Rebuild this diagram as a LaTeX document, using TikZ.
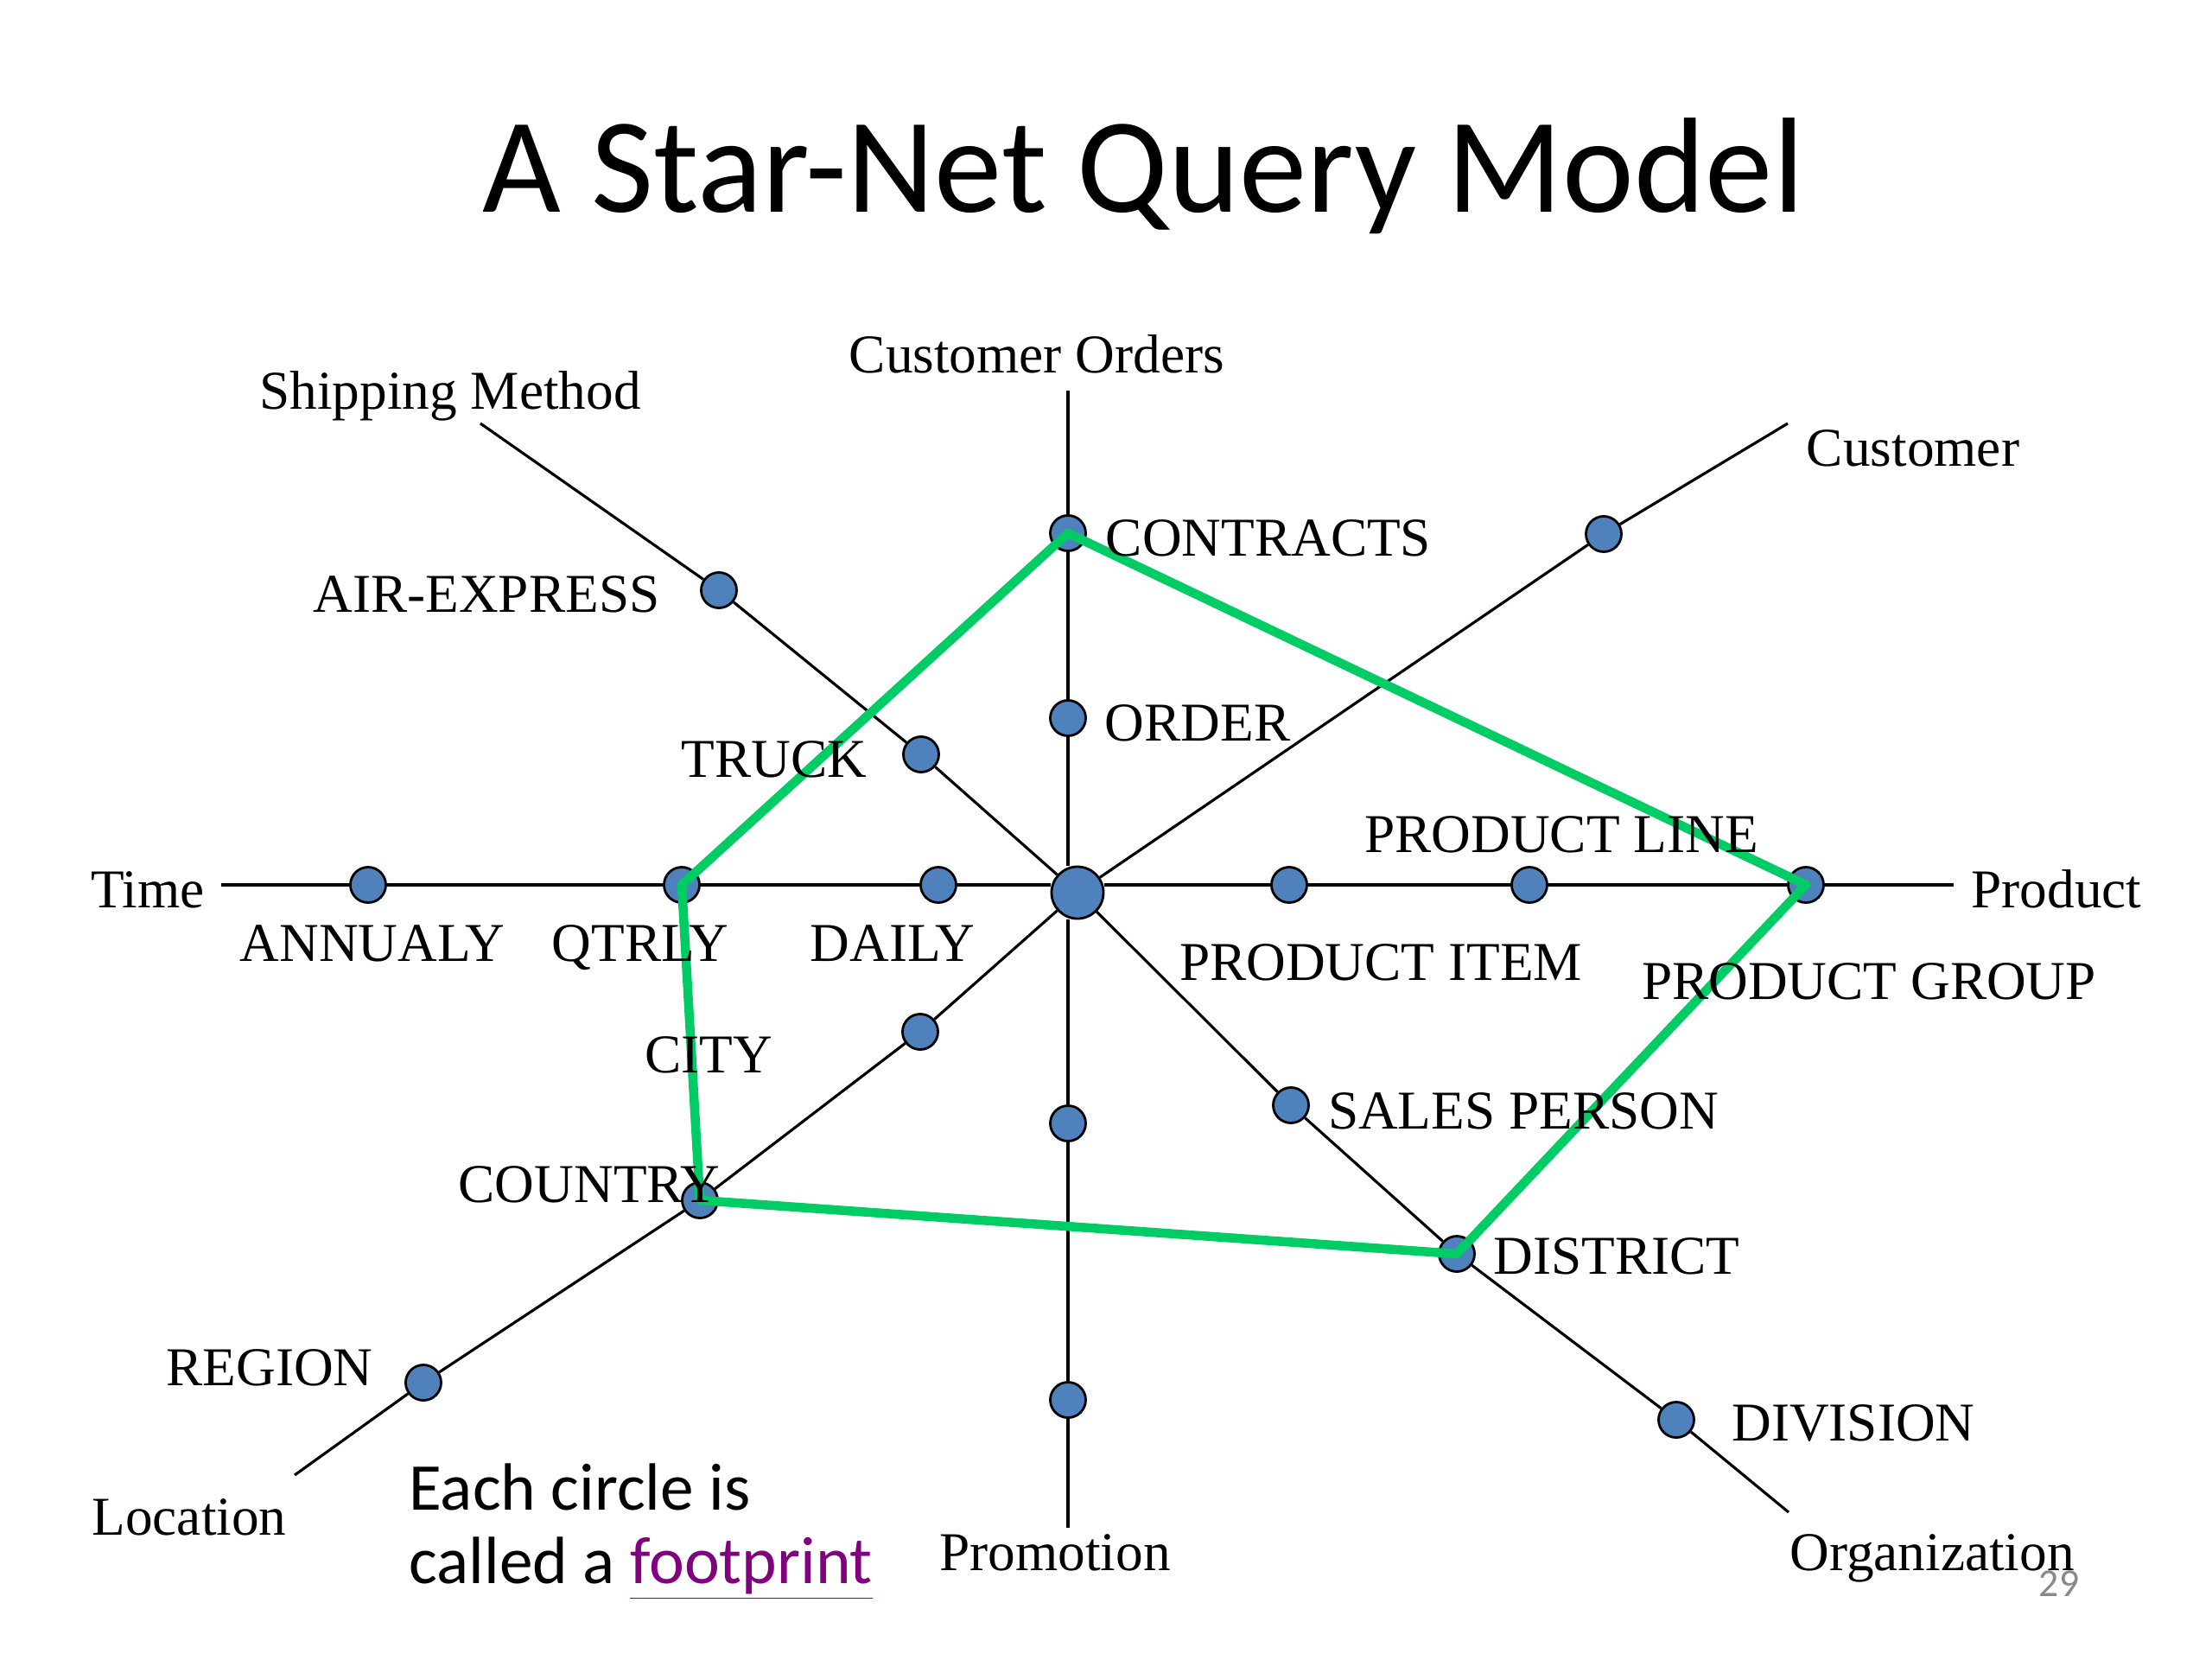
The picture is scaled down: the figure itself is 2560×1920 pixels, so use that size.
\documentclass[tikz,border=0pt]{standalone}
\usepackage{fontspec}
\setmainfont{Liberation Serif}
\newfontfamily\calibri{Carlito}
\definecolor{dotblue}{RGB}{79,129,189}
\definecolor{footgreen}{RGB}{0,204,102}
\definecolor{linkpurple}{RGB}{128,0,128}
\definecolor{pagegray}{RGB}{137,137,137}

\begin{document}
\begin{tikzpicture}[x=0.01cm, y=-0.01cm,
    dot/.style={circle, draw, fill=dotblue, minimum size=4.1mm, inner sep=0pt, line width=0.8pt},
    hub/.style={dot, minimum size=6mm},
    lbl/.style={font=\fontsize{18}{20}\selectfont, anchor=base},
    note/.style={font=\calibri\fontsize{22}{26}\selectfont, anchor=base west},
    ray/.style={line width=0.9pt},
    foot/.style={draw=footgreen, line width=3pt, line join=round}]
  \useasboundingbox[fill=white] (0,0) rectangle (2560,1920);
  \node[font=\calibri\fontsize{44.6}{50}\selectfont, anchor=base] (title) at (1323,245) {A Star-Net Query Model};

  % free ends of the dimensions
  \coordinate (ordEnd) at (1236,452);
  \coordinate (promoEnd) at (1236,1768);
  \coordinate (timeEnd) at (256,1024);
  \coordinate (prodEnd) at (2261,1024);
  \coordinate (shipEnd) at (556,490);
  \coordinate (custEnd) at (2069,490);
  \coordinate (locEnd) at (341,1707);
  \coordinate (orgEnd) at (2070,1750);

  % footprints
  \node[hub] (hub) at (1247,1033) {};
  \node[dot] (annualy) at (426,1024) {};
  \node[dot] (qtrly) at (789,1024) {};
  \node[dot] (daily) at (1086,1024) {};
  \node[dot] (item) at (1492,1024) {};
  \node[dot] (pline) at (1770,1024) {};
  \node[dot] (group) at (2090,1024) {};
  \node[dot] (contracts) at (1236,617) {};
  \node[dot] (order) at (1236,831) {};
  \node[dot] (promoA) at (1236,1300) {};
  \node[dot] (promoB) at (1236,1620) {};
  \node[dot] (air) at (832,683) {};
  \node[dot] (truck) at (1066,873) {};
  \node[dot] (cust) at (1856,618) {};
  \node[dot] (city) at (1065,1194) {};
  \node[dot] (country) at (810,1389) {};
  \node[dot] (region) at (490,1600) {};
  \node[dot] (sales) at (1494,1279) {};
  \node[dot] (district) at (1686,1451) {};
  \node[dot] (division) at (1940,1643) {};

  % dimensions
  \draw[ray] (timeEnd) -- (annualy) -- (qtrly) -- (daily) -- (daily -| hub.west);
  \draw[ray] (hub.east |- item) -- (item) -- (pline) -- (group) -- (prodEnd);
  \draw[ray] (ordEnd) -- (contracts) -- (order) -- (order |- hub.north);
  \draw[ray] (order |- hub.south) -- (promoA) -- (promoB) -- (promoEnd);
  \draw[ray] (shipEnd) -- (air) -- (truck) -- (hub);
  \draw[ray] (custEnd) -- (cust) -- (hub);
  \draw[ray] (locEnd) -- (region) -- (country) -- (city) -- (hub);
  \draw[ray] (orgEnd) -- (division) -- (district) -- (sales) -- (hub);

  % the query
  \draw[foot] (contracts.center) -- (group.center) -- (district.center)
    -- (country.center) -- (qtrly.center) -- cycle;

  % labels
  \node[lbl] (lOrders) at (1200,431) {Customer Orders};
  \node[lbl] (lShip) at (521,473) {Shipping Method};
  \node[lbl] (lCust) at (2214,539) {Customer};
  \node[lbl] (lAir) at (563,708) {AIR-EXPRESS};
  \node[lbl] (lContracts) at (1468,643) {CONTRACTS};
  \node[lbl] (lOrder) at (1386,857) {ORDER};
  \node[lbl] (lTruck) at (896,899) {TRUCK};
  \node[lbl] (lLine) at (1807,986) {PRODUCT LINE};
  \node[lbl] (lTime) at (171,1050) {Time};
  \node[lbl] (lProd) at (2380,1050) {Product};
  \node[lbl] (lAnnualy) at (431,1112) {ANNUALY};
  \node[lbl] (lQtrly) at (741,1112) {QTRLY};
  \node[lbl] (lDaily) at (1033,1112) {DAILY};
  \node[lbl] (lItem) at (1598,1134) {PRODUCT ITEM};
  \node[lbl] (lGroup) at (2163,1156) {PRODUCT GROUP};
  \node[lbl] (lCity) at (820,1241) {CITY};
  \node[lbl] (lSales) at (1763,1306) {SALES PERSON};
  \node[lbl] (lCountry) at (682,1391) {COUNTRY};
  \node[lbl] (lDistrict) at (1871,1474) {DISTRICT};
  \node[lbl] (lRegion) at (312,1603) {REGION};
  \node[lbl] (lDivision) at (2145,1667) {DIVISION};
  \node[lbl] (lLoc) at (219,1776) {Location};
  \node[lbl] (lPromo) at (1221,1817) {Promotion};
  \node[lbl] (lOrg) at (2236,1817) {Organization};

  \node[note] (noteA) at (461,1747) {Each circle is};
  \node[note] (noteB) at (461,1832) {called a \textcolor{linkpurple}{\underline{footprint}}};
  \node[font=\calibri\fontsize{13}{15}\selectfont, text=pagegray, anchor=base] (page) at (2383,1847) {29};
\end{tikzpicture}
\end{document}
